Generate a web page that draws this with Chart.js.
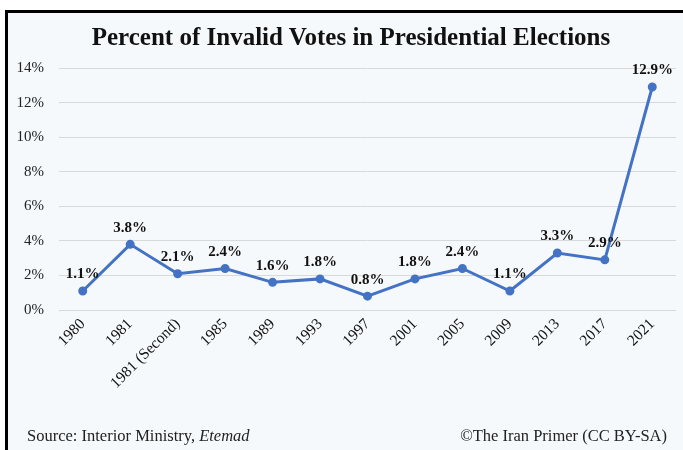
<!DOCTYPE html>
<html lang="en">
<head>
<meta charset="utf-8">
<script src="https://cdn.jsdelivr.net/npm/chart.js@4.4.0/dist/chart.umd.min.js"></script>
<style>
    body {
        margin: 0;
        background: #ffffff;
        font-family: "Liberation Serif", serif;
    }

    .frame {
        position: absolute;
        left: 5px;
        top: 10px;
        width: 678px;
        height: 440px;
        box-sizing: border-box;
        border-top: 3px solid #000;
        border-left: 3px solid #000;
        background: #f6f9fc;
    }

    .wrap {
        position: absolute;
        left: 0;
        top: 0;
        width: 683px;
        height: 450px;
    }

    .chartTitle {
        position: absolute;
        left: 51px;
        width: 600px;
        top: 22px;
        text-align: center;
        font-size: 25px;
        font-weight: bold;
        line-height: 30px;
        color: #111;
    }

    .note {
        position: absolute;
        top: 426px;
        font-size: 16.5px;
        color: #222;
    }
</style>
</head>
<body>

<div class="frame"></div>
<div class="wrap">
    <canvas id="invalidChart" width="683" height="450"></canvas>
</div>
<div class="chartTitle">Percent of Invalid Votes in Presidential Elections</div>
<div class="note" style="left: 27px;">Source: Interior Ministry, <i>Etemad</i></div>
<div class="note" style="right: 16px;">&copy;The Iran Primer (CC BY-SA)</div>

<script>

    var elections = ['1980', '1981', '1981 (Second)', '1985', '1989', '1993', '1997',
        '2001', '2005', '2009', '2013', '2017', '2021'];
    var invalidPct = [1.1, 3.8, 2.1, 2.4, 1.6, 1.8, 0.8, 1.8, 2.4, 1.1, 3.3, 2.9, 12.9];
    var yTicks = [0, 2, 4, 6, 8, 10, 12, 14];

    // labels above each point
    var pointLabels = {
        id: 'pointLabels',
        afterDatasetsDraw: function (chart) {
            var ctx = chart.ctx;
            var meta = chart.getDatasetMeta(0);
            ctx.save();
            ctx.font = 'bold 15px "Liberation Serif"';
            ctx.fillStyle = '#111';
            ctx.textAlign = 'center';
            ctx.textBaseline = 'bottom';
            meta.data.forEach(function (pt, i) {
                ctx.fillText(invalidPct[i].toFixed(1) + '%', pt.x, pt.y - 9);
            });
            ctx.restore();
        }
    };

    const config = {
        type: 'line',
        data: {
            labels: elections,
            datasets: [{
                label: 'Invalid votes',
                data: invalidPct,
                borderColor: '#4472c4',
                backgroundColor: '#4472c4',
                borderWidth: 3,
                pointRadius: 3,
                pointHoverRadius: 3,
                tension: 0
            }]
        },
        options: {
            responsive: false,
            animation: false,
            layout: {
                padding: { left: 8, right: 7, top: 68, bottom: 0 }
            },
            plugins: {
                legend: { display: false },
                tooltip: { enabled: false },
                title: { display: false }
            },
            scales: {
                x: {
                    offset: true,
                    grid: { display: false, drawTicks: false },
                    border: { display: false },
                    ticks: {
                        color: '#111',
                        font: { family: 'Liberation Serif', size: 15.5 },
                        minRotation: 45,
                        maxRotation: 45,
                        autoSkip: false,
                        padding: 5
                    },
                    afterFit: function (s) { s.height = 140; }
                },
                y: {
                    min: 0,
                    max: 14,
                    afterBuildTicks: function (s) {
                        s.ticks = yTicks.map(function (v) { return { value: v }; });
                    },
                    grid: { color: '#d9d9d9', drawTicks: false },
                    border: { display: false },
                    ticks: {
                        color: '#222',
                        font: { family: 'Liberation Serif', size: 15 },
                        padding: 15,
                        callback: function (v) { return v + '%'; }
                    },
                    afterFit: function (s) { s.width = 51; }
                }
            }
        },
        plugins: [pointLabels]
    };

    const ctx = document.getElementById('invalidChart').getContext('2d');
    const invalidChart = new Chart(ctx, config);

</script>
</body>
</html>
